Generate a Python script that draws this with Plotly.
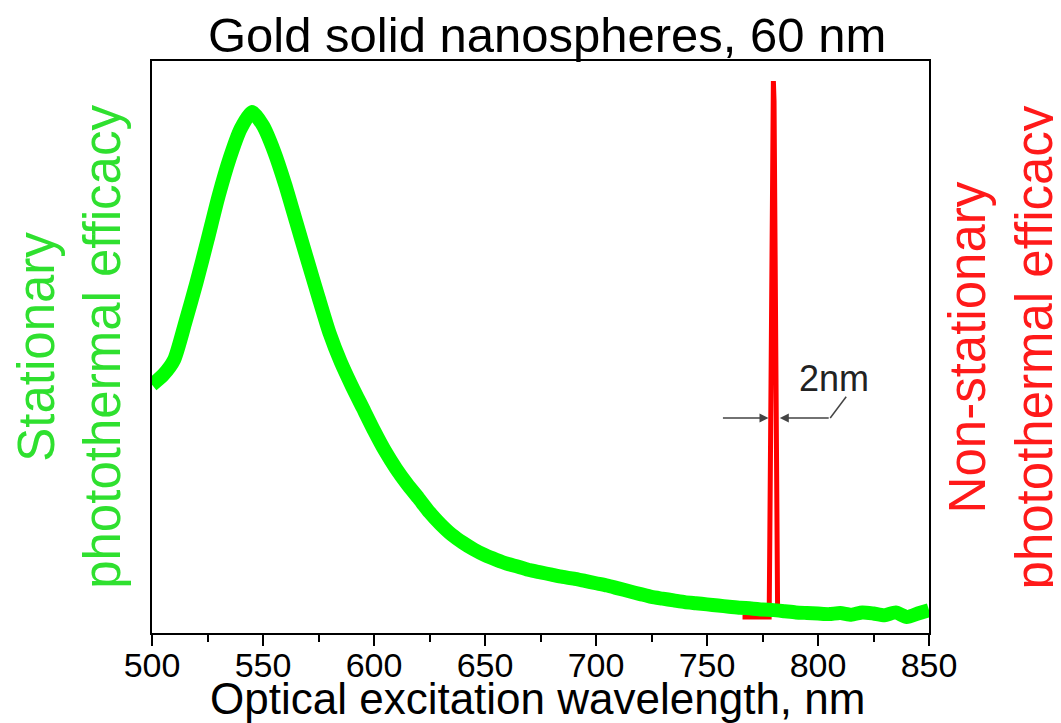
import plotly.graph_objects as go

# ---- data ----
wavelength_green = [500, 505, 510, 515, 520, 525, 530, 535, 540, 545, 550, 555, 560, 565, 570,
                     575, 580, 585, 590, 595, 600, 605, 610, 615, 620, 625, 630, 635, 640, 645,
                     650, 655, 660, 665, 670, 675, 680, 685, 690, 695, 700, 705, 710, 715, 720,
                     725, 730, 735, 740, 745, 750, 755, 760, 765, 770, 775, 780, 785, 790, 795,
                     800, 805, 810, 815, 820, 825, 830, 835, 840, 845, 850]
stationary = [0.434, 0.451, 0.478, 0.543, 0.612, 0.687, 0.764, 0.830, 0.882, 0.911, 0.887, 0.842,
              0.784, 0.718, 0.652, 0.587, 0.524, 0.474, 0.432, 0.393, 0.354, 0.318, 0.287, 0.260,
              0.236, 0.211, 0.190, 0.172, 0.158, 0.146, 0.136, 0.128, 0.121, 0.116, 0.110, 0.106,
              0.102, 0.098, 0.095, 0.091, 0.087, 0.083, 0.078, 0.073, 0.068, 0.063, 0.060, 0.057,
              0.054, 0.052, 0.050, 0.048, 0.046, 0.044, 0.043, 0.041, 0.040, 0.038, 0.036, 0.035,
              0.034, 0.033, 0.035, 0.032, 0.036, 0.034, 0.031, 0.036, 0.028, 0.034, 0.040]

wavelength_red = [766, 778.0, 778.3, 779.2, 779.6, 779.9, 780.2, 780.7, 781.6, 781.8, 784]
non_stationary = [0.028, 0.028, 0.17, 0.60, 0.93, 0.965, 0.93, 0.60, 0.17, 0.04, 0.04]

x_ticks = [500, 550, 600, 650, 700, 750, 800, 850]

title_text = "Gold solid nanospheres, 60 nm"
x_title = "Optical excitation wavelength, nm"
left_title = "Stationary<br>photothermal efficacy"
right_title = "Non-stationary<br>photothermal efficacy"
width_label = "2nm"

# annotation geometry (data units)
arrow_y = 0.376
left_arrow_tail, left_arrow_tip = 756.5, 777.7
right_arrow_tip, right_arrow_tail = 782.8, 805.5
leader_end = (812.7, 0.413)
label_pos = (807, 0.445)

FONT = "Arial, Liberation Sans, sans-serif"
GREEN = "#00ff00"
RED = "#ff0000"

fig = go.Figure()
fig.add_trace(go.Scatter(x=wavelength_red, y=non_stationary, mode="lines",
                         line=dict(color=RED, width=5), yaxis="y", showlegend=False))
fig.add_trace(go.Scatter(x=wavelength_green, y=stationary, mode="lines",
                         line=dict(color=GREEN, width=14, shape="spline", smoothing=0.6),
                         yaxis="y2", showlegend=False))

fig.update_layout(
    width=1061, height=723,
    margin=dict(l=144, r=140, t=53, b=98),
    paper_bgcolor="white", plot_bgcolor="white",
    font=dict(family=FONT, color="black"),
    xaxis=dict(range=[500, 850], tickvals=x_ticks, ticks="outside", ticklen=11, tickwidth=1.5,
               tickcolor="black", showline=True, linecolor="black", linewidth=2, mirror=True,
               showgrid=False, zeroline=False, tickfont=dict(size=34, family=FONT),
               ticklabelstandoff=-10,
               minor=dict(dtick=25, tick0=500, ticks="outside", ticklen=7, tickwidth=1.5,
                          tickcolor="black")),
    yaxis=dict(range=[0, 1], showticklabels=False, ticks="", showgrid=False, zeroline=False,
               showline=True, linecolor="black", linewidth=2, mirror=True),
    yaxis2=dict(range=[0, 1], overlaying="y", showticklabels=False, ticks="", showgrid=False,
                zeroline=False, showline=False),
)

ann = []
ann.append(dict(text=title_text, xref="paper", yref="paper", x=0.508, y=1.0, yanchor="bottom",
                xanchor="center", showarrow=False, yshift=-3, font=dict(size=49, family=FONT, color="black")))
ann.append(dict(text=x_title, xref="paper", yref="paper", x=0.496, y=0.0, yanchor="top",
                xanchor="center", showarrow=False, yshift=-39, font=dict(size=44, family=FONT, color="black")))
ann.append(dict(text=left_title, xref="paper", yref="paper", x=-0.107, y=0.5, xanchor="center",
                yanchor="middle", textangle=-90, showarrow=False,
                font=dict(size=51, family=FONT, color="#2fe02f")))
ann.append(dict(text=right_title, xref="paper", yref="paper", x=1.092, y=0.5, xanchor="center",
                yanchor="middle", textangle=-90, showarrow=False,
                font=dict(size=51, family=FONT, color="#ff1a1a")))
ann.append(dict(text=width_label, xref="x", yref="y", x=label_pos[0], y=label_pos[1],
                xanchor="center", yanchor="middle",
                showarrow=False, font=dict(size=36, family=FONT, color="#222222")))
# arrows
ann.append(dict(x=left_arrow_tip, y=arrow_y, ax=left_arrow_tail, ay=arrow_y, xref="x", yref="y",
                axref="x", ayref="y", showarrow=True, arrowhead=2, arrowsize=1.2, arrowwidth=1.5,
                arrowcolor="#444444", text=""))
ann.append(dict(x=right_arrow_tip, y=arrow_y, ax=right_arrow_tail, ay=arrow_y, xref="x", yref="y",
                axref="x", ayref="y", showarrow=True, arrowhead=2, arrowsize=1.2, arrowwidth=1.5,
                arrowcolor="#444444", text=""))
fig.update_layout(annotations=ann)
fig.add_shape(type="line", xref="x", yref="y", x0=right_arrow_tail, y0=arrow_y,
              x1=leader_end[0], y1=leader_end[1], line=dict(color="#444444", width=1.5))

fig.write_html("out.html")
